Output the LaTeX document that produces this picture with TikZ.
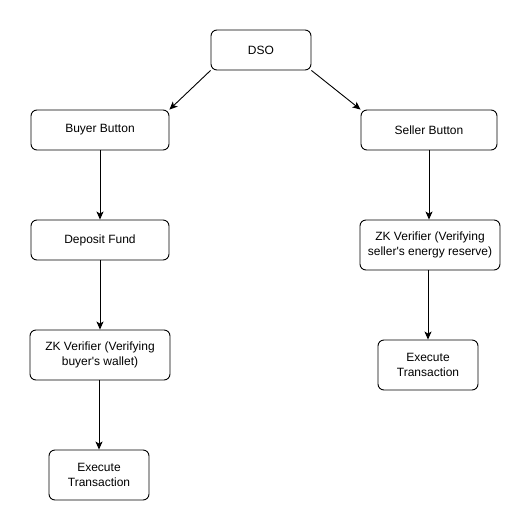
\documentclass[tikz,border=0pt]{standalone}
\usepackage{fontspec}
\setmainfont{Liberation Sans}
\usetikzlibrary{arrows.meta}

\begin{document}
\begin{tikzpicture}[
  x=1pt, y=-1pt,
  blk/.style={draw, rounded corners=6pt, line width=0.9pt, align=center,
    inner sep=0pt, font=\fontsize{12}{15}\selectfont},
  lnk/.style={line width=0.9pt, -{Stealth[length=8pt,width=7pt,inset=2pt]}},
]

\useasboundingbox (0,0) rectangle (531,531);

\node [blk, minimum width=100pt, minimum height=40pt] (dso) at (261,50) {DSO};

\node [blk, minimum width=138pt, minimum height=40pt] (buyer) at (100,130) {Buyer Button};
\node [blk, minimum width=138pt, minimum height=40pt] (deposit) at (100,240) {Deposit Fund};
\node [blk, minimum width=140pt, minimum height=50pt] (zkbuy) at (100,355) {ZK Verifier (Verifying\\buyer\textquotesingle s wallet)};
\node [blk, minimum width=100pt, minimum height=50pt] (execbuy) at (99,475) {Execute\\Transaction};

\node [blk, minimum width=136pt, minimum height=40pt] (seller) at (429,130) {Seller Button};
\node [blk, minimum width=140pt, minimum height=50pt] (zksell) at (430,245) {ZK Verifier (Verifying\\seller\textquotesingle s energy reserve)};
\node [blk, minimum width=100pt, minimum height=50pt] (execsell) at (428,365) {Execute\\Transaction};

\draw [lnk] (dso.south west) -- (buyer.north east);
\draw [lnk] (dso.south east) -- (seller.north west);

\draw [lnk] (buyer) -- (deposit);
\draw [lnk] (deposit) -- (zkbuy);
\draw [lnk] (zkbuy.south -| execbuy.north) -- (execbuy);

\draw [lnk] (seller.south) -- (seller.south |- zksell.north);
\draw [lnk] (zksell.south -| execsell.north) -- (execsell);

\end{tikzpicture}
\end{document}
